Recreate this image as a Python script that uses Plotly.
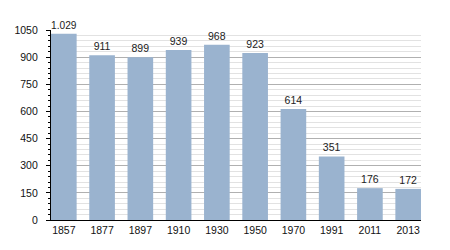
import plotly.graph_objects as go

years = ["1857", "1877", "1897", "1910", "1930", "1950", "1970", "1991", "2011", "2013"]
population = [1029, 911, 899, 939, 968, 923, 614, 351, 176, 172]
bar_labels = ["1.029", "911", "899", "939", "968", "923", "614", "351", "176", "172"]
y_ticks = [0, 150, 300, 450, 600, 750, 900, 1050]

fig = go.Figure(go.Bar(
    x=years, y=population, text=bar_labels,
    textposition="outside", cliponaxis=False,
    textfont=dict(size=10.5, color="#222222"),
    marker=dict(color="#9AB3CF", line=dict(width=0)),
))

fig.update_layout(
    width=450, height=250,
    margin=dict(l=51, r=29, t=30, b=30),
    paper_bgcolor="white", plot_bgcolor="white",
    font=dict(family="Liberation Sans, Arial, sans-serif", size=10.5, color="#111111"),
    bargap=0.33, showlegend=False,
)
fig.update_xaxes(
    type="category", range=[-0.335, 9.335],
    showline=True, linecolor="black", linewidth=1.2,
    ticks="", showgrid=False, tickfont=dict(size=10.5),
)
fig.update_yaxes(
    range=[0, 1050], tickvals=y_ticks,
    showline=True, linecolor="black", linewidth=1.2,
    ticks="outside", ticklen=4, tickcolor="black", tickwidth=1,
    ticklabelstandoff=6,
    showgrid=True, gridcolor="#b0b0b0", gridwidth=1,
    zeroline=False,
    minor=dict(dtick=30, showgrid=True, gridcolor="#e2e2e2", gridwidth=1,
               ticks="outside", ticklen=2, tickcolor="black"),
    tickfont=dict(size=10.5),
)
fig.write_html("out.html")
